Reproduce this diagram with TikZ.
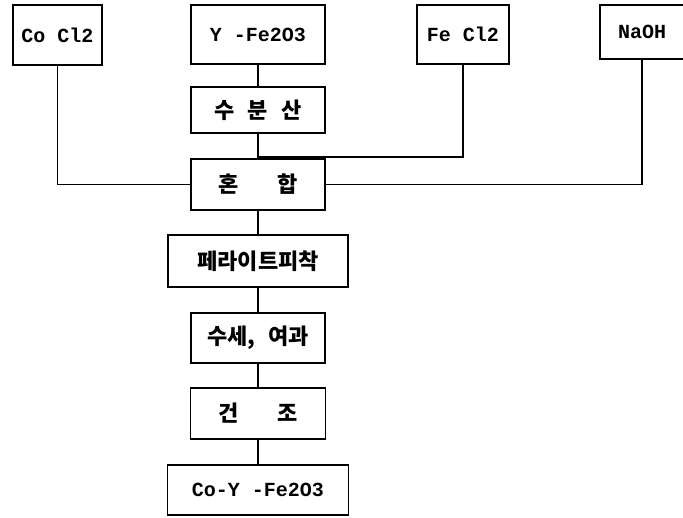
\documentclass[tikz,border=0pt]{standalone}
\usepackage{fontspec}
\setmainfont{Liberation Mono}
\newfontfamily\kr[WordSpace=2.6]{Noto Sans CJK KR}
\tikzset{
  procbox/.style={draw,line width=1.8pt,inner sep=0pt,outer sep=0pt,font=\fontsize{20}{24}\selectfont\bfseries},
  krbox/.style={procbox,font=\fontsize{22}{26}\selectfont\kr\bfseries},
  link/.style={line width=1.8pt}
}

\begin{document}
\begin{tikzpicture}[x=1pt,y=-1pt]
\useasboundingbox (0,0) rectangle (683,517);
% raw materials
\node[procbox,minimum width=89pt,minimum height=60pt] (co) at (57.5,35) {Co Cl2};
\node[procbox,minimum width=134pt,minimum height=59pt] (tfe) at (258,34.5) {Υ -Fe2O3};
\node[procbox,minimum width=92pt,minimum height=59pt] (fe) at (463,34.5) {Fe Cl2};
\node[procbox,minimum width=84pt,minimum height=54pt] (naoh) at (642,32) {NaOH};
% process steps
\node[krbox,minimum width=134pt,minimum height=46pt] (disp) at (258,110) {수 분 산};
\node[krbox,minimum width=134pt,minimum height=51pt] (mix) at (258,184.5) {혼~~~합};
\node[krbox,minimum width=180pt,minimum height=52pt] (ferr) at (258,261) {페라이트피착};
\node[krbox,minimum width=134pt,minimum height=50pt] (wash) at (258,338) {수세, 여과};
\node[krbox,minimum width=135pt,minimum height=51pt] (dry) at (258,413.5) {건~~~조};
\node[procbox,minimum width=181pt,minimum height=50pt] (prod) at (258,490) {Co-Υ -Fe2O3};
% connectors
\coordinate (fejoin) at ([yshift=2pt]mix.north);
\draw[link] (tfe.south) -- (disp.north);
\draw[link] (disp.south) -- (mix.north);
\draw[link] (co.south) |- (mix.west);
\draw[link] (fe.south) |- (fejoin);
\draw[link] (naoh.south) |- (mix.east);
\draw[link] (mix.south) -- (ferr.north);
\draw[link] (ferr.south) -- (wash.north);
\draw[link] (wash.south) -- (dry.north);
\draw[link] (dry.south) -- (prod.north);
\end{tikzpicture}
\end{document}
